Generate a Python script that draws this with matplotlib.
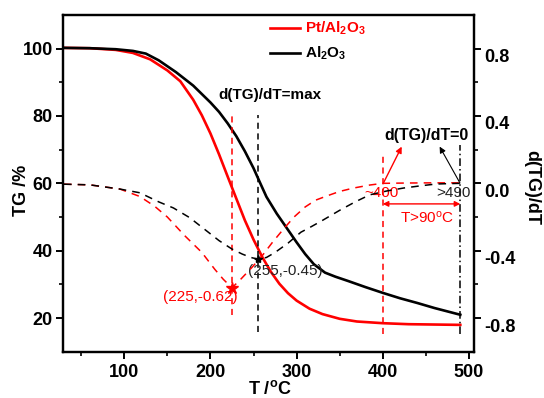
import numpy as np
import matplotlib
matplotlib.use("Agg")
import matplotlib.pyplot as plt
from matplotlib.transforms import ScaledTranslation

plt.rcParams["font.family"] = ["Liberation Sans", "DejaVu Sans"]
plt.rcParams["mathtext.fontset"] = "custom"
plt.rcParams["mathtext.rm"] = "Liberation Sans"
plt.rcParams["mathtext.bf"] = "Liberation Sans:bold"
plt.rcParams["mathtext.default"] = "regular"
plt.rcParams["axes.unicode_minus"] = False

# TG curves (left axis, %)
t_pt = [30, 60, 90, 110, 130, 150, 165, 180, 190, 200, 210, 220, 230, 240, 250,
        260, 270, 280, 290, 300, 315, 330, 350, 370, 400, 430, 460, 490]
tg_pt = [100.2, 100.1, 99.6, 98.7, 96.8, 93.5, 90.3, 84.8, 80.2, 74.8, 68.6, 62.0,
         55.5, 49.0, 43.3, 38.2, 33.8, 30.2, 27.4, 25.2, 22.8, 21.2, 19.8, 19.0,
         18.5, 18.2, 18.1, 18.0]
t_al = [30, 60, 90, 110, 125, 140, 160, 180, 200, 210, 220, 230, 240, 250, 257,
        265, 277, 290, 300, 310, 320, 333, 345, 360, 380, 400, 420, 440, 460, 475, 490]
tg_al = [100.2, 100.1, 99.8, 99.3, 98.5, 96.5, 93.0, 89.0, 84.0, 81.2, 77.8, 74.0,
         69.5, 64.5, 60.5, 56.0, 51.0, 46.2, 42.5, 39.0, 36.0, 33.5, 32.3, 31.0,
         29.2, 27.5, 25.9, 24.5, 23.0, 22.0, 21.0]

# DTG curves (right axis)
td_pt = [30, 60, 95, 118, 135, 150, 170, 190, 205, 215, 225, 235, 248, 260, 272,
         285, 297, 310, 322, 335, 350, 366, 385, 400, 430, 460, 490]
dtg_pt = [-0.005, -0.009, -0.034, -0.078, -0.135, -0.20, -0.31, -0.41, -0.51, -0.57,
          -0.62, -0.57, -0.50, -0.43, -0.35, -0.27, -0.20, -0.14, -0.10, -0.075,
          -0.048, -0.028, -0.01, 0.0, 0.002, 0.003, 0.003]
td_al = [30, 60, 95, 118, 140, 157, 176, 195, 210, 225, 237, 247, 255, 265, 275,
         290, 305, 316, 330, 350, 368, 385, 405, 424, 445, 462, 475, 490]
dtg_al = [-0.005, -0.009, -0.034, -0.056, -0.11, -0.146, -0.204, -0.28, -0.34, -0.39,
          -0.42, -0.44, -0.45, -0.44, -0.41, -0.355, -0.29, -0.26, -0.22, -0.16,
          -0.11, -0.068, -0.045, -0.028, -0.014, -0.004, -0.002, 0.0]

# peak points and marker lines
peak_pt = (225, -0.62)
peak_al = (255, -0.45)
vline_t = [225, 255, 400, 490]
vline_lo = [21, 16, 15.3, 15.3]
vline_hi = [81.3, 80.3, 68.5, 71.4]

RED = "#ff0000"

fig = plt.figure(figsize=(5.44, 3.98), dpi=100)
ax = fig.add_axes([0.116, 0.116, 0.7555, 0.8467])
ax2 = ax.twinx()

ax.plot(t_pt, tg_pt, color=RED, lw=1.9, label=r"Pt/Al$_\mathbf{2}$O$_\mathbf{3}$")
ax.plot(t_al, tg_al, color="black", lw=1.9, label=r"Al$_\mathbf{2}$O$_\mathbf{3}$")

ax2.plot(td_pt, dtg_pt, color=RED, lw=1.1, dashes=(5, 4))
ax2.plot(td_al, dtg_al, color="black", lw=1.1, dashes=(5, 4))
ax2.plot(*peak_pt, marker="*", color=RED, ms=9, mec=RED)
ax2.plot(*peak_al, marker="*", color="black", ms=6)

styles = [dict(color=RED, dashes=(4, 3)), dict(color="black", dashes=(4, 3)),
          dict(color=RED, dashes=(4, 3)), dict(color="black", dashes=(5, 2, 1, 2))]
for t, lo, hi, st in zip(vline_t, vline_lo, vline_hi, styles):
    ax.plot([t, t], [lo, hi], lw=1.1, **st)

ax.set_xlim(29, 506)
ax.set_ylim(10, 110)
ax2.set_ylim(-1.0, 1.0)

ax.set_xticks([100, 200, 300, 400, 500])
ax.set_xticks(np.arange(50, 501, 100), minor=True)
ax.set_yticks([20, 40, 60, 80, 100])
ax.set_yticks([30, 50, 70, 90], minor=True)
ax2.set_yticks([-0.8, -0.4, 0.0, 0.4, 0.8])
ax2.set_yticks([-0.6, -0.2, 0.2, 0.6], minor=True)

for a in (ax, ax2):
    for sp in a.spines.values():
        sp.set_linewidth(1.6)
    a.tick_params(which="major", direction="out", length=5, width=1.4,
                  labelsize=13)
    a.tick_params(which="minor", direction="out", length=3, width=1.2)
    for lab in a.get_xticklabels() + a.get_yticklabels():
        lab.set_fontweight("bold")
ax.tick_params(axis="y", pad=2.5)
ax2.tick_params(axis="y", pad=2.5)

for lab in ax2.get_yticklabels():
    lab.set_transform(lab.get_transform() +
                      ScaledTranslation(0, -5 / 72, fig.dpi_scale_trans))

fig.text(270 / 544, 1 - 389 / 398, r"T /$^\mathbf{o}$C", fontsize=13,
         fontweight="bold", ha="center", va="center")
fig.text(22 / 544, 1 - 190 / 398, "TG /%", fontsize=13, fontweight="bold",
         rotation=90, ha="center", va="center")
fig.text(532 / 544, 1 - 187 / 398, "d(TG)/dT", fontsize=13, fontweight="bold",
         rotation=270, ha="center", va="center")

leg = ax.legend(loc="upper left", bbox_to_anchor=(0.504, 0.985), frameon=False,
                handlelength=1.95, handletextpad=0.3,
                labelspacing=0.5, borderpad=0, borderaxespad=0,
                labelcolor="linecolor", prop={"weight": "bold", "size": 11})

ax.text(269, 86.3, "d(TG)/dT=max", fontsize=11, fontweight="bold",
        ha="center", va="center")
ax.text(451, 74.1, "d(TG)/dT=0", fontsize=11.5, fontweight="bold",
        ha="center", va="center")
ax.annotate("", xy=(422, 70.9), xytext=(400.6, 60.0),
            arrowprops=dict(arrowstyle="-|>", color=RED, lw=1.0,
                            mutation_scale=9, shrinkA=0, shrinkB=0))
ax.annotate("", xy=(466, 70.9), xytext=(489.6, 60.1),
            arrowprops=dict(arrowstyle="-|>", color="black", lw=0.8,
                            mutation_scale=9, shrinkA=0, shrinkB=0))
ax.annotate("", xy=(400, 53.9), xytext=(490, 53.9),
            arrowprops=dict(arrowstyle="<|-|>", color=RED, lw=1.0,
                            mutation_scale=8, shrinkA=0, shrinkB=0))

ax.text(399, 57.1, "~400", fontsize=11, color=RED, ha="center", va="center")
ax.text(482, 57.1, ">490", fontsize=11, color="#222222", ha="center", va="center")
ax.text(451, 49.7, r"T>90$^o$C", fontsize=11, color=RED, ha="center", va="center")
ax.text(188, 26.4, "(225,-0.62)", fontsize=11, color=RED, ha="center", va="center")
ax.text(287, 34.1, "(255,-0.45)", fontsize=11, color="#222222", ha="center",
        va="center")

fig.savefig("out.png", dpi=100)
